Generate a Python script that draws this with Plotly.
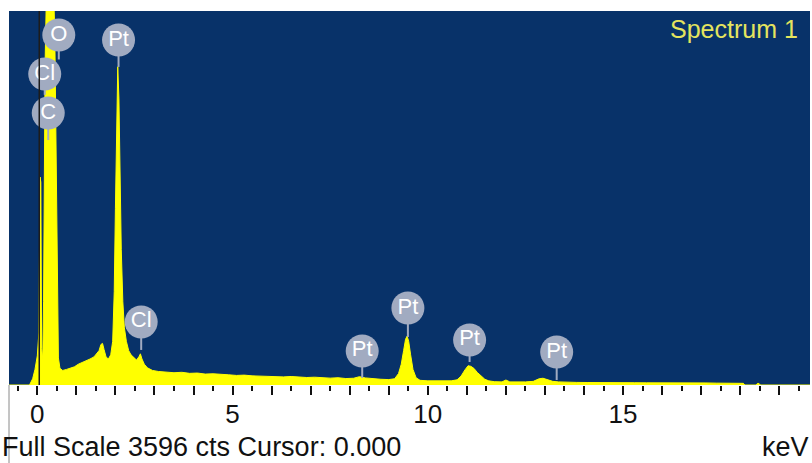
import plotly.graph_objects as go

# ---- data -------------------------------------------------------------
energy_kev = [-0.725, -0.2, -0.12, -0.06, 0.0, 0.04, 0.07, 0.09, 0.11, 0.14, 0.16, 0.18, 0.2,
              0.23, 0.27, 0.32, 0.37, 0.42, 0.45, 0.47, 0.49, 0.51, 0.54, 0.58, 0.65, 0.75,
              0.85, 0.95, 1.05, 1.15, 1.25, 1.35, 1.45, 1.52, 1.58, 1.63, 1.67, 1.71, 1.76,
              1.82, 1.88, 1.93, 1.97, 2.0, 2.03, 2.06, 2.09, 2.12, 2.15, 2.19, 2.23, 2.28,
              2.34, 2.4, 2.47, 2.54, 2.6, 2.64, 2.68, 2.74, 2.82, 2.95, 3.1, 3.3, 3.5, 3.7,
              3.9, 4.1, 4.3, 4.5, 4.7, 4.9, 5.1, 5.3, 5.5, 5.7, 5.9, 6.1, 6.3, 6.5, 6.7, 6.9,
              7.1, 7.3, 7.5, 7.7, 7.9, 8.1, 8.25, 8.4, 8.6, 8.8, 9.0, 9.15, 9.25, 9.32, 9.38,
              9.43, 9.47, 9.51, 9.56, 9.62, 9.7, 9.8, 10.0, 10.2, 10.4, 10.6, 10.75, 10.85,
              10.95, 11.03, 11.1, 11.18, 11.27, 11.36, 11.46, 11.56, 11.7, 11.9, 12.0, 12.1,
              12.3, 12.5, 12.7, 12.85, 12.95, 13.05, 13.2, 13.35, 13.5, 13.8, 14.1, 14.4,
              14.7, 15.0, 15.3, 15.6, 15.9, 16.2, 16.5, 16.8, 17.1, 17.4, 17.7, 18.0, 18.08,
              18.12, 18.4, 18.44, 18.48, 18.52, 19.787]
counts = [0, 0, 60, 150, 280, 500, 2000, 1950, 350, 250, 800, 2200, 3100,
          3700, 4100, 4300, 4200, 3800, 3300, 2600, 1600, 700, 260, 160, 140, 150,
          165, 175, 200, 215, 235, 250, 270, 300, 330, 390, 400, 340, 270,
          250, 290, 420, 900, 1700, 2600, 3060, 2750, 2000, 1300, 800, 550, 420,
          330, 290, 260, 240, 270, 300, 250, 200, 165, 140, 130, 125, 118, 122,
          112, 115, 105, 108, 100, 98, 92, 95, 88, 85, 88, 80, 78, 82, 75, 72,
          75, 68, 66, 70, 62, 65, 80, 68, 58, 55, 52, 60, 110, 200, 330,
          440, 470, 420, 290, 150, 70, 45, 40, 38, 36, 40, 50, 85,
          145, 185, 180, 160, 120, 85, 55, 40, 32, 30, 48, 30,
          28, 30, 35, 60, 65, 50, 35, 30, 26, 25, 24, 25,
          22, 24, 22, 21, 22, 20, 21, 19, 20, 18, 19, 17, 16,
          0, 0, 15, 15, 0, 0]

label_names = ["O", "Cl", "C", "Pt", "Cl", "Pt", "Pt", "Pt", "Pt"]
label_energy = [0.55, 0.19, 0.28, 2.08, 2.66, 8.32, 9.49, 11.07, 13.3]
label_center = [3365, 2990, 2615, 3317, 606, 327, 740, 433, 317]
label_stem_end = [3130, 2790, 2355, 3058, 337, 67, 461, 221, 48]

x_ticks = list(range(0, 20))
x_tick_text = [str(v) if v % 5 == 0 else "" for v in x_ticks]

full_scale = 3596
cursor_kev = 0.05
x_range = [-0.725, 19.787]

FONT = "Liberation Sans, Arial, sans-serif"
GRAY = "#A1ABC1"

# ---- figure -----------------------------------------------------------
fig = go.Figure()

fig.add_trace(go.Scatter(
    x=energy_kev, y=counts, mode="lines", fill="tozeroy",
    line=dict(color="#FFFF00", width=1), fillcolor="#FFFF00",
    hoverinfo="skip", showlegend=False))

stem_x, stem_y = [], []
for e, c0, c1 in zip(label_energy, label_center, label_stem_end):
    stem_x += [e, e, None]
    stem_y += [c0, c1, None]
fig.add_trace(go.Scatter(
    x=stem_x, y=stem_y, mode="lines", line=dict(color=GRAY, width=2),
    hoverinfo="skip", showlegend=False))

fig.add_trace(go.Scatter(
    x=label_energy, y=label_center, mode="markers+text",
    text=label_names, textposition="middle center",
    textfont=dict(family=FONT, size=22, color="white"),
    marker=dict(size=33, color=GRAY, line=dict(width=0)),
    cliponaxis=False, hoverinfo="skip", showlegend=False))

fig.add_shape(type="line", xref="x", yref="paper", x0=cursor_kev, x1=cursor_kev,
              y0=0, y1=1, line=dict(color="#1c1c1c", width=1.5))
fig.add_shape(type="line", xref="paper", yref="paper", x0=0, x1=0,
              y0=0, y1=-78 / 374, line=dict(color="#8a8a8a", width=1))

fig.add_annotation(text="Spectrum 1", xref="paper", yref="paper",
                   x=(800 - 9) / 801, y=(385 - 29) / 374, xanchor="right", yanchor="middle",
                   showarrow=False, font=dict(family=FONT, size=25, color="#E4E45E"))
fig.add_annotation(text="Full Scale %d cts Cursor: 0.000" % full_scale,
                   xref="paper", yref="paper", x=-9 / 801, y=(385 - 447) / 374,
                   xanchor="left", yanchor="middle", showarrow=False,
                   font=dict(family=FONT, size=27, color="#111111"))
fig.add_annotation(text="keV", xref="paper", yref="paper", x=(811 - 9) / 801,
                   y=(385 - 447) / 374, xanchor="right", yanchor="middle",
                   showarrow=False, font=dict(family=FONT, size=27, color="#111111"))

fig.update_layout(
    width=812, height=463,
    margin=dict(l=9, r=2, t=11, b=78),
    paper_bgcolor="white", plot_bgcolor="#083269",
    showlegend=False,
    xaxis=dict(range=x_range, showgrid=False, zeroline=False,
               tickmode="array", tickvals=x_ticks, ticktext=x_tick_text,
               ticks="outside", ticklen=9, tickwidth=2, tickcolor="#111111",
               tickfont=dict(family=FONT, size=26, color="#111111"),
               ticklabelstandoff=-3,
               showline=False,
               minor=dict(dtick=0.5, ticks="outside", ticklen=5, tickwidth=2,
                          tickcolor="#111111", showgrid=False)),
    yaxis=dict(range=[0, full_scale], showgrid=False, zeroline=False,
               showticklabels=False, ticks="", showline=False),
)

fig.write_html("out.html")
